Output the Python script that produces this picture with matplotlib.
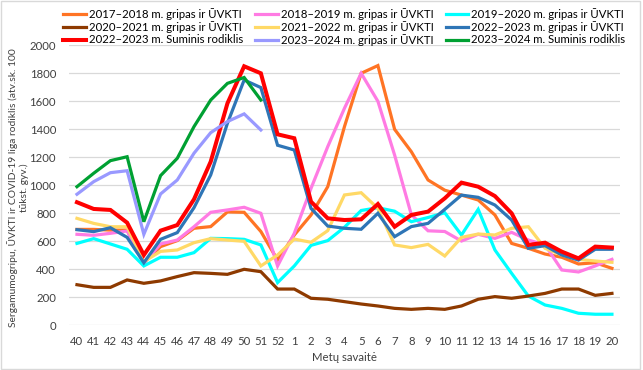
import matplotlib
matplotlib.use('Agg')
import matplotlib.pyplot as plt
from matplotlib.patches import Rectangle

# savaitės (40..52, 1..20)
weeks = [str(w) for w in list(range(40, 53)) + list(range(1, 21))]

flu_2017_2018 = [685, 685, 680, 680, 447, 562, 605, 693, 705, 810, 807, 670, 466,
                 645, 788, 990, 1419, 1800, 1855, 1400, 1240, 1038, 965, 930, 895,
                 788, 585, 550, 509, 486, 438, 447, 407]
flu_2018_2019 = [650, 643, 657, 674, 443, 581, 609, 704, 807, 824, 843, 800, 424,
                 657, 978, 1276, 1550, 1800, 1600, 1216, 790, 675, 670, 602, 650,
                 621, 664, 609, 574, 395, 381, 424, 471]
flu_2019_2020 = [585, 619, 581, 543, 424, 486, 486, 519, 621, 619, 614, 574, 305,
                 424, 571, 605, 700, 820, 840, 815, 740, 770, 804, 645, 828,
                 538, 371, 209, 145, 121, 86, 79, 79]
flu_2020_2021 = [290, 271, 271, 324, 300, 317, 348, 376, 371, 364, 400, 383, 259,
                 259, 193, 186, 169, 152, 138, 121, 114, 121, 114, 138, 186,
                 205, 193, 209, 228, 259, 259, 214, 228]
flu_2021_2022 = [764, 728, 704, 704, 455, 528, 538, 590, 619, 609, 600, 424, 502,
                 616, 593, 676, 931, 947, 835, 574, 555, 578, 495, 628, 652,
                 645, 693, 704, 550, 502, 471, 459, 450]
flu_2022_2023 = [683, 669, 697, 628, 447, 614, 662, 840, 1074, 1443, 1752, 1698, 1286,
                 1252, 835, 709, 693, 686, 800, 633, 705, 728, 828, 930, 914,
                 859, 752, 550, 569, 502, 466, 543, 543]
total_2022_2023 = [879, 831, 824, 733, 502, 676, 716, 900, 1169, 1585, 1850, 1800, 1364,
                   1336, 883, 764, 752, 757, 866, 704, 788, 812, 907, 1019, 990,
                   923, 800, 574, 590, 526, 478, 562, 555]
flu_2023_2024 = [936, 1026, 1090, 1104, 650, 938, 1038, 1229, 1376, 1455, 1510, 1395]
total_2023_2024 = [990, 1086, 1176, 1204, 740, 1069, 1193, 1419, 1609, 1728, 1770, 1609]

labels = [
    '2017\u20132018 m. gripas ir ŪVKTI',
    '2018\u20132019 m. gripas ir ŪVKTI',
    '2019\u20132020 m. gripas ir ŪVKTI',
    '2020\u20132021 m. gripas ir ŪVKTI',
    '2021\u20132022 m. gripas ir ŪVKTI',
    '2022\u20132023 m. gripas ir ŪVKTI',
    '2022\u20132023 m. Suminis rodiklis',
    '2023\u20132024 m. gripas ir ŪVKTI',
    '2023\u20132024 m. Suminis rodiklis',
]
colors = ['#FF7424', '#FF7BE3', '#00FFFF', '#8E3A00', '#FFD966',
          '#2E75B6', '#FF0000', '#9999FF', '#00A032']


def main():
    plt.rcParams['font.family'] = ['Lato', 'DejaVu Sans']
    fig = plt.figure(figsize=(6.43, 3.7), dpi=100)
    ax = fig.add_axes([0.1067, 0.1208, 0.858, 0.7568])

    series = [flu_2017_2018, flu_2018_2019, flu_2019_2020, flu_2020_2021,
              flu_2021_2022, flu_2022_2023, total_2022_2023, flu_2023_2024,
              total_2023_2024]
    handles = []
    for vals, lab, col in zip(series, labels, colors):
        lw = 2.9 if col == '#FF0000' else 2.3
        h, = ax.plot(weeks[:len(vals)], vals, color=col, lw=lw, label=lab,
                     solid_joinstyle='miter')
        handles.append(h)

    ax.set_xlim(-0.5, len(weeks) - 0.5)
    ax.set_ylim(0, 2000)
    ax.set_yticks(range(0, 2001, 200))
    ax.grid(axis='y', color='#D9D9D9', lw=0.9)
    ax.set_axisbelow(True)
    for s in ax.spines.values():
        s.set_visible(False)
    ax.tick_params(length=0, labelsize=8.2, colors='#404040')
    ax.tick_params(axis='x', pad=8)
    ax.tick_params(axis='y', pad=9)
    ax.set_xlabel('Metų savaitė', fontsize=8.2, color='#404040', labelpad=3)
    ax.set_ylabel('Sergamumogripu, ŪVKTI ir COVID-19 liga rodiklis (atv.sk. 100\ntūkst. gyv.)',
                  fontsize=7.4, color='#404040', linespacing=1.25)
    ax.yaxis.set_label_coords(-0.071, 0.49)

    # legend row-wise (3 columns)
    order = [0, 3, 6, 1, 4, 7, 2, 5, 8]
    fig.legend([handles[i] for i in order], [labels[i] for i in order],
               ncol=3, loc='upper left', bbox_to_anchor=(0.088, 0.997),
               frameon=False, fontsize=8.2, handlelength=2.0, handletextpad=0.25,
               columnspacing=1.05, labelspacing=0.12, borderaxespad=0.2)

    fig.patches.append(Rectangle((0.002, 0.004), 0.994, 0.992, transform=fig.transFigure,
                                 fill=False, edgecolor='#D9D9D9', lw=1))
    fig.savefig('out.png', dpi=100)


if __name__ == '__main__':
    main()
